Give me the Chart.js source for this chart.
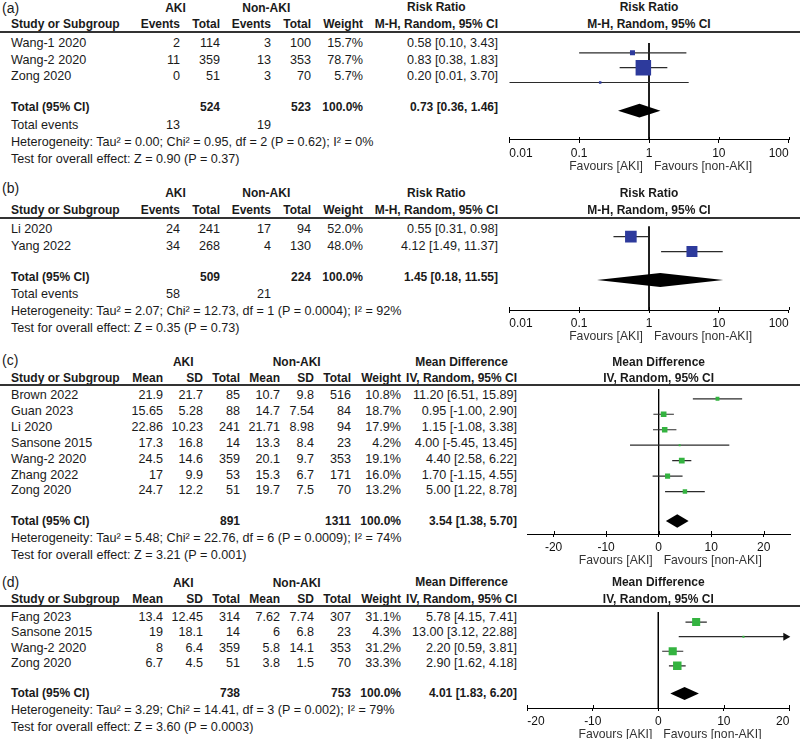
<!DOCTYPE html>
<html>
<head>
<meta charset="utf-8">
<script src="https://cdn.jsdelivr.net/npm/chart.js@4.4.1/dist/chart.umd.min.js"></script>
<style>
body { margin: 0; background: #fff; }
#page { position: relative; width: 800px; height: 739px; overflow: hidden;
  font-family: "Liberation Sans", Arial, sans-serif; font-size: 12.6px; color: #1a1a1a; }
.t { position: absolute; white-space: nowrap; line-height: 14px; }
.b { font-weight: bold; font-size: 12px; }
.lab { font-size: 14px; }
.fav { color: #333; font-size: 12.2px; }
.rule { position: absolute; left: 0; width: 800px; height: 2px; background: #333; }
</style>
</head>
<body>
<div id="page"></div>
<script>
//  DATA

// (a) risk ratio
var studiesA = ["Wang-1 2020", "Wang-2 2020", "Zong 2020"];
var akiEventsA = [2, 11, 0];
var akiTotalA = [114, 359, 51];
var nonEventsA = [3, 13, 3];
var nonTotalA = [100, 353, 70];
var weightA = [15.7, 78.7, 5.7];
var rrA = [0.58, 0.83, 0.2];
var rrLowA = [0.1, 0.38, 0.01];
var rrHighA = [3.43, 1.83, 3.7];
var sumTotalsA = [524, 523];
var sumEventsA = [13, 19];
var pooledA = [0.73, 0.36, 1.46];
var statsA = [
  "Heterogeneity: Tau\u00b2 = 0.00; Chi\u00b2 = 0.95, df = 2 (P = 0.62); I\u00b2 = 0%",
  "Test for overall effect: Z = 0.90 (P = 0.37)"
];

// (b) risk ratio
var studiesB = ["Li 2020", "Yang 2022"];
var akiEventsB = [24, 34];
var akiTotalB = [241, 268];
var nonEventsB = [17, 4];
var nonTotalB = [94, 130];
var weightB = [52.0, 48.0];
var rrB = [0.55, 4.12];
var rrLowB = [0.31, 1.49];
var rrHighB = [0.98, 11.37];
var sumTotalsB = [509, 224];
var sumEventsB = [58, 21];
var pooledB = [1.45, 0.18, 11.55];
var statsB = [
  "Heterogeneity: Tau\u00b2 = 2.07; Chi\u00b2 = 12.73, df = 1 (P = 0.0004); I\u00b2 = 92%",
  "Test for overall effect: Z = 0.35 (P = 0.73)"
];

// (c) mean difference
var studiesC = ["Brown 2022", "Guan 2023", "Li 2020", "Sansone 2015", "Wang-2 2020", "Zhang 2022", "Zong 2020"];
var akiMeanC = [21.9, 15.65, 22.86, 17.3, 24.5, 17, 24.7];
var akiSdC = [21.7, 5.28, 10.23, 16.8, 14.6, 9.9, 12.2];
var akiTotalC = [85, 88, 241, 14, 359, 53, 51];
var nonMeanC = [10.7, 14.7, 21.71, 13.3, 20.1, 15.3, 19.7];
var nonSdC = [9.8, 7.54, 8.98, 8.4, 9.7, 6.7, 7.5];
var nonTotalC = [516, 84, 94, 23, 353, 171, 70];
var weightC = [10.8, 18.7, 17.9, 4.2, 19.1, 16.0, 13.2];
var mdC = [11.2, 0.95, 1.15, 4.0, 4.4, 1.7, 5.0];
var mdLowC = [6.51, -1.0, -1.08, -5.45, 2.58, -1.15, 1.22];
var mdHighC = [15.89, 2.9, 3.38, 13.45, 6.22, 4.55, 8.78];
var sumTotalsC = [891, 1311];
var pooledC = [3.54, 1.38, 5.7];
var statsC = [
  "Heterogeneity: Tau\u00b2 = 5.48; Chi\u00b2 = 22.76, df = 6 (P = 0.0009); I\u00b2 = 74%",
  "Test for overall effect: Z = 3.21 (P = 0.001)"
];

// (d) mean difference
var studiesD = ["Fang 2023", "Sansone 2015", "Wang-2 2020", "Zong 2020"];
var akiMeanD = [13.4, 19, 8, 6.7];
var akiSdD = [12.45, 18.1, 6.4, 4.5];
var akiTotalD = [314, 14, 359, 51];
var nonMeanD = [7.62, 6, 5.8, 3.8];
var nonSdD = [7.74, 6.8, 14.1, 1.5];
var nonTotalD = [307, 23, 353, 70];
var weightD = [31.1, 4.3, 31.2, 33.3];
var mdD = [5.78, 13.0, 2.2, 2.9];
var mdLowD = [4.15, 3.12, 0.59, 1.62];
var mdHighD = [7.41, 22.88, 3.81, 4.18];
var sumTotalsD = [738, 753];
var pooledD = [4.01, 1.83, 6.2];
var statsD = [
  "Heterogeneity: Tau\u00b2 = 3.29; Chi\u00b2 = 14.41, df = 3 (P = 0.002); I\u00b2 = 79%",
  "Test for overall effect: Z = 3.60 (P = 0.0003)"
];

// axis ticks
var rrTicks = [0.01, 0.1, 1, 10, 100];
var mdTicksC = [-20, -10, 0, 10, 20];
var mdTicksD = [-20, -10, 0, 10, 20];

//  LAYOUT (pixels)
var LAYOUT = {
  a: { labelY: 8, hdr1: 7.5, hdr2: 24, rule: 32, row0: 43, step: 16.5, axis: 140 },
  b: { labelY: 188, hdr1: 193, hdr2: 210, rule: 217.5, row0: 229, step: 16.5, axis: 310 },
  c: { labelY: 360, hdr1: 362, hdr2: 378, rule: 385, row0: 395, step: 15.9, axis: 534 },
  d: { labelY: 581.5, hdr1: 582.5, hdr2: 599, rule: 606, row0: 616.7, step: 15.5, axis: 708 }
};
var RR_COLS = [180, 220, 271, 311, 363, 498];
var MD_COLS = [163, 203, 240, 280, 314, 351, 401, 517];
var FONT = "'Liberation Sans', Arial, sans-serif";
var BLUE = "#2d3a9c";
var GREEN = "#34b340";

var page = document.getElementById("page");

//  HELPERS
function put(x, y, s, align, cls) {
  var d = document.createElement("div");
  d.className = "t" + (cls ? " " + cls : "");
  d.textContent = s;
  d.style.top = y - 7 + "px";
  if (align === "r") d.style.right = 800 - x + "px";
  else if (align === "c") {
    d.style.left = x - 150 + "px";
    d.style.width = "300px";
    d.style.textAlign = "center";
  } else d.style.left = x + "px";
  page.appendChild(d);
  return d;
}

// two stacked header lines, centered on each other
function header2(x, y1, y2, l1, l2, align) {
  var d = document.createElement("div");
  d.className = "t b";
  d.style.textAlign = "center";
  d.style.lineHeight = y2 - y1 + "px";
  d.style.top = y1 - (y2 - y1) / 2 + "px";
  d.appendChild(document.createTextNode(l1));
  d.appendChild(document.createElement("br"));
  d.appendChild(document.createTextNode(l2));
  if (align === "r") d.style.right = 800 - x + "px";
  else {
    d.style.left = x - 150 + "px";
    d.style.width = "300px";
  }
  page.appendChild(d);
}

function rule(y) {
  var d = document.createElement("div");
  d.className = "rule";
  d.style.top = y - 1 + "px";
  page.appendChild(d);
}

function f2(v) {
  return v.toFixed(2);
}
function ci(e, lo, hi) {
  return f2(e) + " [" + f2(lo) + ", " + f2(hi) + "]";
}
function sideOf(w) {
  return 0.73 * Math.pow(w, 0.7);
}

//  PLUGIN: pooled diamond, overflow arrows, tick marks above axis
var forestPlugin = {
  id: "forest",
  afterDatasetsDraw: function (chart, args, opts) {
    var xs = chart.scales.x;
    var ys = chart.scales.y;
    var ctx = chart.ctx;
    ctx.save();

    var cy = ys.getPixelForValue(opts.row);
    var h = opts.half;
    ctx.fillStyle = "#000";
    ctx.beginPath();
    ctx.moveTo(xs.getPixelForValue(opts.pooled[1]), cy);
    ctx.lineTo(xs.getPixelForValue(opts.pooled[0]), cy - h);
    ctx.lineTo(xs.getPixelForValue(opts.pooled[2]), cy);
    ctx.lineTo(xs.getPixelForValue(opts.pooled[0]), cy + h);
    ctx.closePath();
    ctx.fill();

    // arrows where a CI runs past the axis
    ctx.fillStyle = "#111";
    for (var i = 0; i < opts.hi.length; i++) {
      if (opts.hi[i] > xs.max) {
        var ay = ys.getPixelForValue(i);
        var ax = xs.right + 1;
        ctx.beginPath();
        ctx.moveTo(ax, ay);
        ctx.lineTo(ax - 7, ay - 4);
        ctx.lineTo(ax - 7, ay + 4);
        ctx.closePath();
        ctx.fill();
      }
    }

    ctx.strokeStyle = "#000";
    ctx.lineWidth = 1;
    for (var k = 0; k < xs.ticks.length; k++) {
      var px = Math.round(xs.getPixelForValue(xs.ticks[k].value)) + 0.5;
      ctx.beginPath();
      ctx.moveTo(px, xs.top - 3);
      ctx.lineTo(px, xs.top);
      ctx.stroke();
    }
    ctx.restore();
  },
};

//  FOREST CHART
function makeForest(key, cfg) {
  var L = LAYOUT[key];
  var n = cfg.est.length;
  var canvasLeft = 480;
  var canvasW = 320;
  var axisBox = 30;
  var plotH = L.axis - L.rule;
  var H = plotH + axisBox + 2;

  var yMin = (L.rule - L.row0) / L.step;
  var yMax = (L.axis - L.row0) / L.step;

  var cv = document.createElement("canvas");
  cv.width = canvasW;
  cv.height = H;
  cv.style.position = "absolute";
  cv.style.left = canvasLeft + "px";
  cv.style.top = L.rule + "px";
  page.appendChild(cv);

  var datasets = [];
  datasets.push({
    data: cfg.est.map(function (v, i) {
      return { x: v, y: i };
    }),
    pointStyle: "rect",
    pointRadius: cfg.weights.map(function (w) {
      return sideOf(w) / Math.SQRT2;
    }),
    backgroundColor: cfg.color,
    borderWidth: 0,
    order: 0,
  });
  for (var i = 0; i < n; i++) {
    datasets.push({
      data: [
        { x: cfg.lo[i], y: i },
        { x: Math.min(cfg.hi[i], cfg.xMax), y: i },
      ],
      showLine: true,
      pointRadius: 0,
      borderColor: "#2b2b2b",
      borderWidth: 1.2,
      order: 1,
    });
  }
  datasets.push({
    data: [
      { x: cfg.nullV, y: yMin },
      { x: cfg.nullV, y: yMax },
    ],
    showLine: true,
    pointRadius: 0,
    borderColor: "#000",
    borderWidth: 1,
    order: 2,
  });

  var chart = new Chart(cv, {
    type: "scatter",
    data: { datasets: datasets },
    options: {
      responsive: false,
      animation: false,
      devicePixelRatio: 1,
      events: [],
      layout: {
        padding: {
          left: cfg.xLeft - canvasLeft,
          right: canvasLeft + canvasW - cfg.xRight,
          top: 0,
          bottom: 2,
        },
      },
      plugins: {
        legend: { display: false },
        tooltip: { enabled: false },
        forest: {
          row: n + 0.9,
          half: L.step * 0.42,
          pooled: cfg.pooled,
          hi: cfg.hi,
        },
      },
      scales: {
        x: {
          type: cfg.log ? "logarithmic" : "linear",
          min: cfg.xMin,
          max: cfg.xMax,
          afterBuildTicks: function (s) {
            s.ticks = cfg.ticks.map(function (v) {
              return { value: v };
            });
          },
          afterFit: function (s) {
            s.height = axisBox;
          },
          ticks: {
            callback: function (v) {
              return String(v);
            },
            font: { family: FONT, size: 12 },
            color: "#111",
            padding: 3,
            align: cfg.tickAlign,
            maxRotation: 0,
            autoSkip: false,
          },
          grid: {
            drawOnChartArea: false,
            drawTicks: true,
            tickLength: 3,
            color: "#000",
            lineWidth: 1,
          },
          border: { color: "#000", width: 1 },
        },
        y: {
          type: "linear",
          display: false,
          reverse: true,
          min: yMin,
          max: yMax,
        },
      },
    },
    plugins: [forestPlugin],
  });

  // headers and favours labels follow the scale
  var nullPx = canvasLeft + chart.scales.x.getPixelForValue(cfg.nullV);
  header2(nullPx, L.hdr1, L.hdr2, cfg.title[0], cfg.title[1], "c");
  put(nullPx - 6, L.axis + 26, "Favours [AKI]", "r", "fav");
  put(nullPx + 5, L.axis + 26, "Favours [non-AKI]", "l", "fav");
}

//  TABLE
function makeTable(key, studies, cols, xs, groupX, effTitle, totals, pooled, events, stats) {
  var L = LAYOUT[key];
  var n = studies.length;
  put(2, L.labelY, "(" + key + ")", "l", "lab");
  put(groupX[0], L.hdr1, "AKI", "c", "b");
  put(groupX[1], L.hdr1, "Non-AKI", "c", "b");
  put(11, L.hdr2, "Study or Subgroup", "l", "b");
  for (var c = 0; c < cols.length; c++) {
    put(xs[c], L.hdr2, cols[c].name, "r", "b");
  }
  header2(xs[xs.length - 1], L.hdr1, L.hdr2, effTitle[0], effTitle[1], "r");
  rule(L.rule);

  for (var i = 0; i < n; i++) {
    var y = L.row0 + i * L.step;
    put(11, y, studies[i]);
    for (var c = 0; c < cols.length; c++) {
      put(xs[c], y, cols[c].fmt(cols[c].vals[i]), "r");
    }
    put(xs[xs.length - 1], y, ci(pooled.est[i], pooled.lo[i], pooled.hi[i]), "r");
  }

  var ty = L.row0 + (n + 0.9) * L.step;
  put(11, ty, "Total (95% CI)", "l", "b");
  put(xs[totals.cols[0]], ty, String(totals.vals[0]), "r", "b");
  put(xs[totals.cols[1]], ty, String(totals.vals[1]), "r", "b");
  put(xs[xs.length - 2], ty, "100.0%", "r", "b");
  put(xs[xs.length - 1], ty, ci(pooled.sum[0], pooled.sum[1], pooled.sum[2]), "r", "b");

  var fy = ty + 17.5;
  if (events) {
    put(11, fy, "Total events");
    put(xs[0], fy, String(events[0]), "r");
    put(xs[2], fy, String(events[1]), "r");
    fy += 17;
  }
  put(11, fy, stats[0]);
  put(11, fy + 17, stats[1]);
}

function plain(v) {
  return String(v);
}
function pct(v) {
  return v.toFixed(1) + "%";
}

//  PANEL A
makeTable(
  "a", studiesA,
  [
    { name: "Events", vals: akiEventsA, fmt: plain },
    { name: "Total", vals: akiTotalA, fmt: plain },
    { name: "Events", vals: nonEventsA, fmt: plain },
    { name: "Total", vals: nonTotalA, fmt: plain },
    { name: "Weight", vals: weightA, fmt: pct },
  ],
  RR_COLS, [175.5, 266.3], ["Risk Ratio", "M-H, Random, 95% CI"],
  { cols: [1, 3], vals: sumTotalsA },
  { est: rrA, lo: rrLowA, hi: rrHighA, sum: pooledA },
  sumEventsA, statsA
);
makeForest("a", {
  est: rrA, lo: rrLowA, hi: rrHighA, weights: weightA, pooled: pooledA,
  color: BLUE, log: true, xMin: 0.01, xMax: 100, ticks: rrTicks, nullV: 1, tickAlign: "inner",
  xLeft: 509.3, xRight: 788.7, title: ["Risk Ratio", "M-H, Random, 95% CI"],
});

//  PANEL B
makeTable(
  "b", studiesB,
  [
    { name: "Events", vals: akiEventsB, fmt: plain },
    { name: "Total", vals: akiTotalB, fmt: plain },
    { name: "Events", vals: nonEventsB, fmt: plain },
    { name: "Total", vals: nonTotalB, fmt: plain },
    { name: "Weight", vals: weightB, fmt: pct },
  ],
  RR_COLS, [175.5, 266.3], ["Risk Ratio", "M-H, Random, 95% CI"],
  { cols: [1, 3], vals: sumTotalsB },
  { est: rrB, lo: rrLowB, hi: rrHighB, sum: pooledB },
  sumEventsB, statsB
);
makeForest("b", {
  est: rrB, lo: rrLowB, hi: rrHighB, weights: weightB, pooled: pooledB,
  color: BLUE, log: true, xMin: 0.01, xMax: 100, ticks: rrTicks, nullV: 1, tickAlign: "inner",
  xLeft: 509.3, xRight: 788.7, title: ["Risk Ratio", "M-H, Random, 95% CI"],
});

//  PANEL C
makeTable(
  "c", studiesC,
  [
    { name: "Mean", vals: akiMeanC, fmt: plain },
    { name: "SD", vals: akiSdC, fmt: plain },
    { name: "Total", vals: akiTotalC, fmt: plain },
    { name: "Mean", vals: nonMeanC, fmt: plain },
    { name: "SD", vals: nonSdC, fmt: plain },
    { name: "Total", vals: nonTotalC, fmt: plain },
    { name: "Weight", vals: weightC, fmt: pct },
  ],
  MD_COLS, [183.3, 296.7], ["Mean Difference", "IV, Random, 95% CI"],
  { cols: [2, 5], vals: sumTotalsC },
  { est: mdC, lo: mdLowC, hi: mdHighC, sum: pooledC },
  null, statsC
);
makeForest("c", {
  est: mdC, lo: mdLowC, hi: mdHighC, weights: weightC, pooled: pooledC,
  color: GREEN, log: false, xMin: -25, xMax: 25, ticks: mdTicksC, nullV: 0, tickAlign: "center",
  xLeft: 527.3, xRight: 790, title: ["Mean Difference", "IV, Random, 95% CI"],
});

//  PANEL D
makeTable(
  "d", studiesD,
  [
    { name: "Mean", vals: akiMeanD, fmt: plain },
    { name: "SD", vals: akiSdD, fmt: plain },
    { name: "Total", vals: akiTotalD, fmt: plain },
    { name: "Mean", vals: nonMeanD, fmt: plain },
    { name: "SD", vals: nonSdD, fmt: plain },
    { name: "Total", vals: nonTotalD, fmt: plain },
    { name: "Weight", vals: weightD, fmt: pct },
  ],
  MD_COLS, [183.3, 296.7], ["Mean Difference", "IV, Random, 95% CI"],
  { cols: [2, 5], vals: sumTotalsD },
  { est: mdD, lo: mdLowD, hi: mdHighD, sum: pooledD },
  null, statsD
);
makeForest("d", {
  est: mdD, lo: mdLowD, hi: mdHighD, weights: weightD, pooled: pooledD,
  color: GREEN, log: false, xMin: -20, xMax: 20, ticks: mdTicksD, nullV: 0, tickAlign: "inner",
  xLeft: 527.3, xRight: 789.3, title: ["Mean Difference", "IV, Random, 95% CI"],
});
</script>
</body>
</html>
